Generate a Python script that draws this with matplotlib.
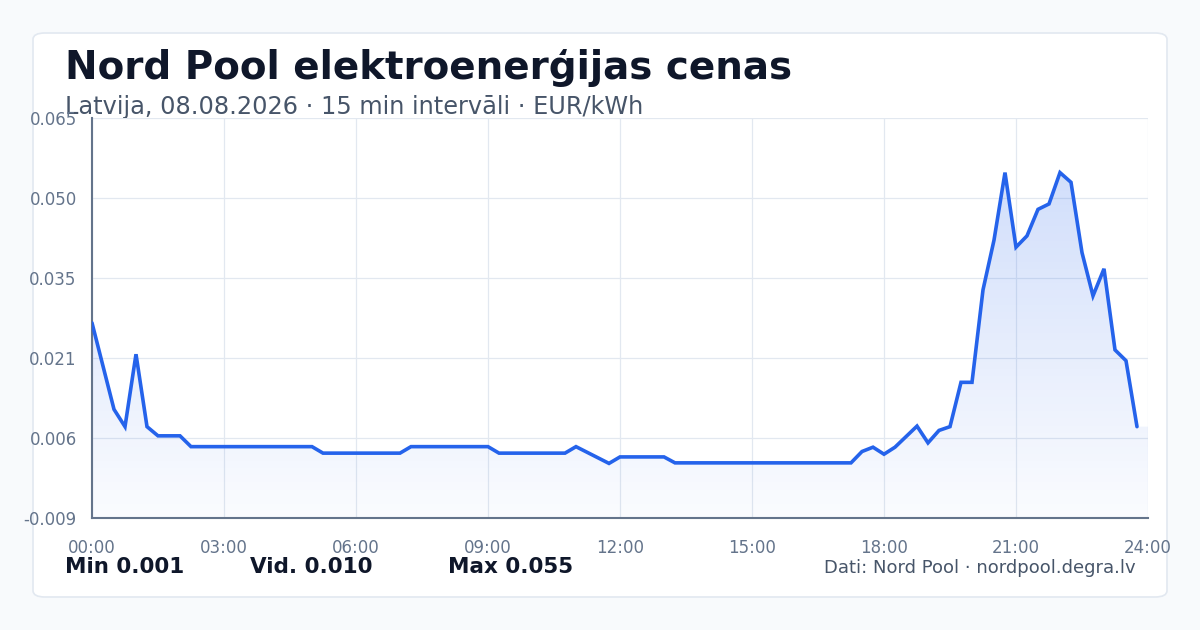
import numpy as np
import matplotlib
matplotlib.use("Agg")
import matplotlib.pyplot as plt
from matplotlib.patches import FancyBboxPatch, Polygon
from matplotlib.colors import LinearSegmentedColormap

# ---- data (hours of day, EUR/kWh) ----
times = [0, 0.5, 0.75, 1.0, 1.25, 1.5, 2.0, 2.25, 5.0, 5.25, 7.0, 7.25, 9.0, 9.25,
         10.75, 11.0, 11.75, 12.0, 13.0, 13.25, 17.25, 17.5, 17.75, 18.0, 18.25,
         18.75, 19.0, 19.25, 19.5, 19.75, 20.0, 20.25, 20.5, 20.75, 21.0, 21.25,
         21.5, 21.75, 22.0, 22.25, 22.5, 22.75, 23.0, 23.25, 23.5, 23.75]
prices = [0.0271, 0.0111, 0.0079, 0.0213, 0.0079, 0.0062, 0.0062, 0.0042, 0.0042,
          0.0030, 0.0030, 0.0042, 0.0042, 0.0030, 0.0030, 0.0042, 0.0011, 0.0023,
          0.0023, 0.0012, 0.0012, 0.0033, 0.0041, 0.0028, 0.0041, 0.0080, 0.0049,
          0.0072, 0.0079, 0.0161, 0.0161, 0.0332, 0.0424, 0.0549, 0.0411, 0.0432,
          0.0481, 0.0491, 0.0549, 0.0531, 0.0401, 0.0321, 0.0371, 0.0221, 0.0201,
          0.0079]
x_tick_labels = ["00:00", "03:00", "06:00", "09:00", "12:00", "15:00", "18:00", "21:00", "24:00"]
y_min, y_max = -0.009, 0.065
stats = [("Min 0.001", 65), ("Vid. 0.010", 250), ("Max 0.055", 448)]
title = "Nord Pool elektroenerģijas cenas"
subtitle = "Latvija, 08.08.2026 · 15 min intervāli · EUR/kWh"
source = "Dati: Nord Pool · nordpool.degra.lv"

W, H = 1200, 630
fig = plt.figure(figsize=(12, 6.3), dpi=100)
fig.patch.set_facecolor("#f8fafc")

card = FancyBboxPatch((33 / W, 33 / H), (1167 - 33) / W, (597 - 33) / H,
                      boxstyle="round,pad=0,rounding_size=0.01",
                      transform=fig.transFigure, facecolor="white",
                      edgecolor="#e2e8f0", linewidth=1.2, zorder=-10)
fig.patches.append(card)

ax = fig.add_axes([92 / W, (H - 518) / H, 1056 / W, 400 / H])
ax.set_zorder(5)
ax.set_facecolor("none")

x = np.array(times)
y = np.array(prices)

# gradient fill under the line
poly_x = np.concatenate([x, [24, 24, 0]])
poly_y = np.concatenate([y, [y[-1], y_min, y_min]])
poly = Polygon(np.column_stack([poly_x, poly_y]), closed=True,
               facecolor="none", edgecolor="none", transform=ax.transData)
ax.add_patch(poly)
cmap = LinearSegmentedColormap.from_list(
    "g", [(0.145, 0.388, 0.922, 0.02), (0.145, 0.388, 0.922, 0.21)])
grad = np.linspace(0, 1, 256).reshape(-1, 1)
im = ax.imshow(grad, extent=[0, 24, y_min, max(prices)], origin="lower",
               aspect="auto", cmap=cmap, zorder=1, interpolation="bicubic")
im.set_clip_path(poly)
ax.set_xlim(0, 24)
ax.set_ylim(y_min, y_max)

ax.plot(x, y, color="#2563eb", linewidth=2.6, solid_joinstyle="miter",
        solid_capstyle="round", zorder=3)

ax.set_xticks(np.arange(0, 25, 3))
ax.set_xticklabels(x_tick_labels)
yt = np.linspace(y_min, y_max, 6)
ax.set_yticks(yt)
ax.set_yticklabels([f"{v:.3f}" for v in yt])
ax.tick_params(axis="both", length=0, labelsize=12, colors="#64748b")
ax.tick_params(axis="x", pad=15)
ax.tick_params(axis="y", pad=11)
ax.grid(True, color="#e2e8f0", linewidth=0.9, zorder=0)
ax.set_axisbelow(True)
for s in ["top", "right"]:
    ax.spines[s].set_visible(False)
for s in ["left", "bottom"]:
    ax.spines[s].set_color("#64748b")
    ax.spines[s].set_linewidth(1.5)

fig.text(65 / W, 1 - 68 / H, title, fontsize=28, fontweight="bold",
         color="#0f172a", va="center", ha="left")
fig.text(65 / W, 1 - 107 / H, subtitle, fontsize=17.3, color="#475569",
         va="center", ha="left")
for txt, px in stats:
    fig.text(px / W, 1 - 567 / H, txt, fontsize=15.5, fontweight="bold",
             color="#0f172a", va="center", ha="left")
fig.text(1136 / W, 1 - 568 / H, source, fontsize=13, color="#475569",
         va="center", ha="right")

fig.savefig("out.png", dpi=100, facecolor=fig.get_facecolor())
